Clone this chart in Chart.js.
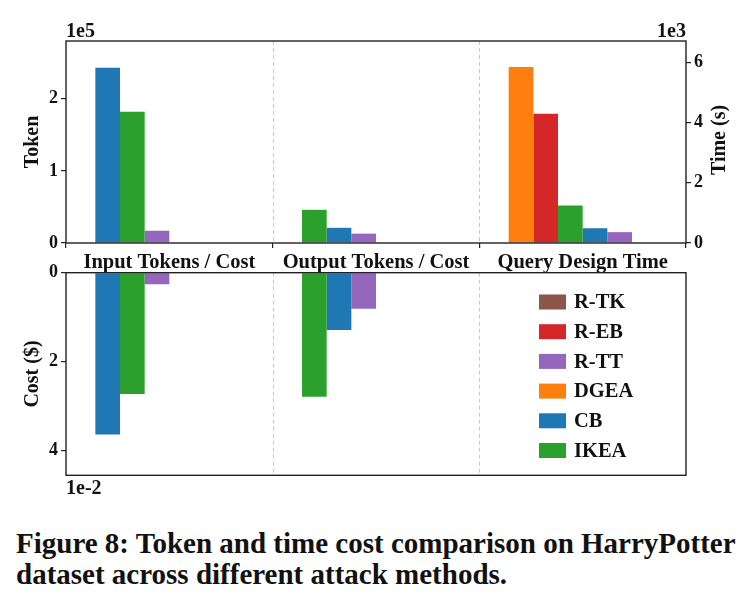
<!DOCTYPE html>
<html>
<head>
<meta charset="utf-8">
<script src="https://cdn.jsdelivr.net/npm/chart.js@4"></script>
<style>
  body { margin: 0; background: #fff; }
  #wrap { position: relative; width: 753px; height: 607px; }
  canvas { position: absolute; left: 0; top: 0; }
  #caption {
    position: absolute; left: 16px; top: 528px; width: 737px; white-space: nowrap;
    font-family: 'Liberation Serif', serif; font-weight: bold;
    font-size: 29px; line-height: 30.5px; color: #111;
  }
</style>
</head>
<body>
<div id="wrap">
  <canvas id="topChart" width="753" height="300"></canvas>
  <canvas id="bottomChart" width="753" height="500"></canvas>
  <div id="caption">Figure 8: Token and time cost comparison on HarryPotter<br>dataset across different attack methods.</div>
</div>
<script>
const groups = ['Input Tokens / Cost', 'Output Tokens / Cost', 'Query Design Time'];
const methods = ['R-TK', 'R-EB', 'R-TT', 'DGEA', 'CB', 'IKEA'];
const methodColors = ['#8c564b', '#d62728', '#9467bd', '#ff7f0e', '#1f77b4', '#2ca02c'];

// tokens (first two groups, left axis), seconds (third group, right axis)
const inputTokens = [0, 0, 17000, 0, 243000, 182000];
const outputTokens = [0, 0, 13000, 0, 21000, 46000];
const designTime = [0, 4290, 360, 5840, 490, 1240];
// dollars, bottom panel
const inputCost = [0, 0, 0.0026, 0, 0.0364, 0.0273];
const outputCost = [0, 0, 0.0081, 0, 0.0129, 0.0279];

const tokenTicks = [0, 100000, 200000];
const timeTicks = [0, 2000, 4000, 6000];
const costTicks = [0, 0.02, 0.04];
const tokenMax = 280000, timeMax = 6700, costMax = 0.0456;

const FONT = 'Liberation Serif';
const INK = '#222';

// bars in every group are sorted high -> low, left to right
function ranked(vals) {
  return vals.map((v, i) => i).sort((a, b) => vals[b] - vals[a]);
}

function buildSlots(groupVals, axisFor) {
  const orders = groupVals.map(v => v ? ranked(v) : null);
  const sets = [];
  const axes = [...new Set(axisFor)];
  for (let k = 0; k < methods.length; k++) {
    axes.forEach(ax => {
      sets.push({
        data: groupVals.map((v, g) => (v && axisFor[g] === ax) ? v[orders[g][k]] : null),
        backgroundColor: groupVals.map((v, g) => v ? methodColors[orders[g][k]] : 'transparent'),
        borderWidth: 0,
        yAxisID: ax,
        stack: 'slot' + k,
        categoryPercentage: 0.716,
        barPercentage: 1,
      });
    });
  }
  return sets;
}

const frame = {
  id: 'frame',
  afterDraw(chart, args, opts) {
    const { ctx, chartArea: a, scales } = chart;
    const x = scales.x;
    ctx.save();
    // dashed separators between groups
    ctx.strokeStyle = '#c8c8c8';
    ctx.lineWidth = 1;
    ctx.setLineDash([4, 3]);
    for (let i = 0; i < groups.length - 1; i++) {
      const px = Math.round((x.getPixelForValue(i) + x.getPixelForValue(i + 1)) / 2) + 0.5;
      ctx.beginPath();
      ctx.moveTo(px, a.top);
      ctx.lineTo(px, a.bottom);
      ctx.stroke();
    }
    ctx.setLineDash([]);
    ctx.strokeStyle = INK;
    ctx.lineWidth = 1.4;
    ctx.strokeRect(a.left, a.top, a.right - a.left, a.bottom - a.top);

    ctx.fillStyle = '#111';
    ctx.font = 'bold 20px ' + FONT;
    (opts.texts || []).forEach(t => {
      ctx.save();
      ctx.translate(t.x, t.y);
      if (t.rot) ctx.rotate(t.rot);
      ctx.textAlign = t.align || 'center';
      ctx.textBaseline = t.base || 'middle';
      ctx.fillText(t.text, 0, 0);
      ctx.restore();
    });

    if (opts.legend) {
      ctx.font = 'bold 20.5px ' + FONT;
      ctx.textAlign = 'left';
      ctx.textBaseline = 'middle';
      methods.forEach((m, i) => {
        const cy = 302 + i * 29.7;
        ctx.fillStyle = methodColors[i];
        ctx.fillRect(539, cy - 7.5, 27, 15);
        ctx.fillStyle = '#111';
        ctx.fillText(m, 574, cy + 1);
      });
    }
    ctx.restore();
  }
};

const tickFont = { family: FONT, weight: 'bold', size: 18 };

function yAxis(pos, max, tickVals, scale, width, reverse) {
  return {
    position: pos,
    min: 0,
    max: max,
    reverse: !!reverse,
    afterFit: s => { s.width = width; },
    afterBuildTicks: s => { s.ticks = tickVals.map(v => ({ value: v })); },
    border: { display: false },
    grid: { drawOnChartArea: false, drawTicks: true, tickLength: 5, lineWidth: 1.2, color: INK },
    ticks: {
      padding: 3,
      color: '#111',
      font: tickFont,
      callback: v => String(Math.round(v / scale)),
    },
  };
}

new Chart(document.getElementById('topChart'), {
  type: 'bar',
  data: {
    labels: groups,
    datasets: buildSlots([inputTokens, outputTokens, designTime], ['y', 'y', 'y2']),
  },
  options: {
    responsive: false,
    animation: false,
    devicePixelRatio: 1,
    layout: { padding: { top: 41 } },
    plugins: {
      legend: { display: false },
      tooltip: { enabled: false },
      frame: {
        texts: [
          { text: '1e5', x: 66, y: 37, align: 'left', base: 'alphabetic' },
          { text: '1e3', x: 686, y: 37, align: 'right', base: 'alphabetic' },
          { text: 'Token', x: 33, y: 142, rot: -Math.PI / 2 },
          { text: 'Time (s)', x: 720, y: 140, rot: -Math.PI / 2 },
        ],
      },
    },
    scales: {
      x: {
        afterFit: s => { s.height = 57; },
        border: { display: false },
        grid: { drawOnChartArea: false, drawTicks: true, tickLength: 5, color: INK, lineWidth: 1.2 },
        ticks: { padding: 2, color: '#111', font: { family: FONT, weight: 'bold', size: 20.5 } },
      },
      y: yAxis('left', tokenMax, tokenTicks, 1e5, 66),
      y2: yAxis('right', timeMax, timeTicks, 1e3, 67),
    },
  },
  plugins: [frame],
});

new Chart(document.getElementById('bottomChart'), {
  type: 'bar',
  data: {
    labels: groups,
    datasets: buildSlots([inputCost, outputCost, null], ['y', 'y', 'y']),
  },
  options: {
    responsive: false,
    animation: false,
    devicePixelRatio: 1,
    layout: { padding: { top: 272.7, bottom: 24.7, right: 67 } },
    plugins: {
      legend: { display: false },
      tooltip: { enabled: false },
      frame: {
        legend: true,
        texts: [
          { text: '1e-2', x: 66, y: 494, align: 'left', base: 'alphabetic' },
          { text: 'Cost ($)', x: 33, y: 374, rot: -Math.PI / 2 },
        ],
      },
    },
    scales: {
      x: { display: false },
      y: yAxis('left', costMax, costTicks, 1e-2, 66, true),
    },
  },
  plugins: [frame],
});
</script>
</body>
</html>
